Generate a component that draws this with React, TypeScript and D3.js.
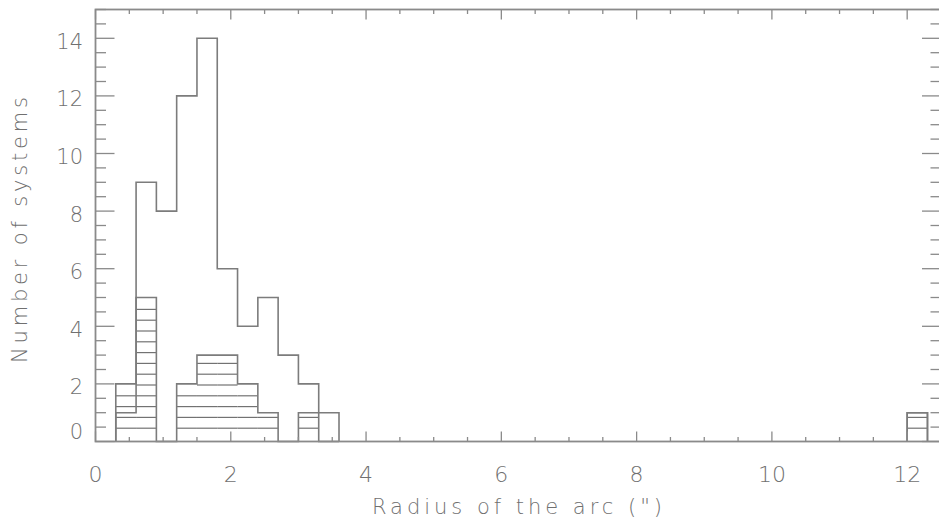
import React from 'react';
import * as d3 from 'd3';

// Histogram bins (left edges, width 0.3 arcsec)
const binLeft = [0.3, 0.6, 0.9, 1.2, 1.5, 1.8, 2.1, 2.4, 2.7, 3.0, 3.3, 12.0];
const allCounts = [1, 9, 8, 12, 14, 6, 4, 5, 3, 2, 1, 1];
const subCounts = [2, 5, 0, 2, 3, 3, 2, 1, 0, 1, 0, 1];
const binWidth = 0.3;
const xTickLabels = [0, 2, 4, 6, 8, 10, 12];
const yTickLabels = [0, 2, 4, 6, 8, 10, 12, 14];
const xTitle = 'Radius of the arc (")';
const yTitle = 'Number of systems';

const W = 939;
const H = 521;
const x = d3.scaleLinear().domain([0, 12.5]).range([95.5, 941]);
const y = d3.scaleLinear().domain([0, 15]).range([441.5, 9.5]);

const LINE = '#7c7c7c';
const FRAME = '#8a8a8a';
const TEXT = '#707070';
const FONT = '"DejaVu Sans ExtraLight", "DejaVu Sans", sans-serif';

type Bin = { l: number; c: number };

function groups(counts: number[]): Bin[][] {
  const out: Bin[][] = [];
  let cur: Bin[] = [];
  binLeft.forEach((l, i) => {
    if (cur.length && Math.abs(cur[cur.length - 1].l + binWidth - l) > 1e-6) {
      out.push(cur);
      cur = [];
    }
    cur.push({ l, c: counts[i] });
  });
  if (cur.length) out.push(cur);
  return out;
}

function stepPath(g: Bin[]): string {
  const pts: [number, number][] = [[x(g[0].l), y(0)]];
  g.forEach((b) => {
    pts.push([x(b.l), y(b.c)]);
    pts.push([x(b.l + binWidth), y(b.c)]);
  });
  pts.push([x(g[g.length - 1].l + binWidth), y(0)]);
  return d3.line()(pts) || '';
}

export default function App() {
  const xMinor = d3.range(0, 12.5 + 1e-6, 0.5);
  const yMinor = d3.range(0, 15 + 1e-6, 0.5);
  const isMajor = (v: number) => Math.abs(v / 2 - Math.round(v / 2)) < 1e-6;

  const hatch: { x1: number; x2: number; yy: number }[] = [];
  binLeft.forEach((l, i) => {
    const c = subCounts[i];
    if (c <= 0) return;
    const top = y(c);
    for (let k = 0; ; k++) {
      const yy = y(0) - 13.3 - 10.8 * k;
      if (yy < top + 2) break;
      hatch.push({ x1: x(l), x2: x(l + binWidth), yy });
    }
  });

  const x0 = x(0), x1 = x(12.5), y0 = y(0), y1 = y(15);

  return (
    <svg width={W} height={H} style={{ position: 'absolute', left: 0, top: 0, background: '#fff' }}>
      {/* hatch lines */}
      {hatch.map((h, i) => (
        <line key={'h' + i} x1={h.x1} x2={h.x2} y1={h.yy} y2={h.yy} stroke="#727272" strokeWidth={1.2} />
      ))}
      {/* subset outline */}
      {groups(subCounts).map((g, i) => (
        <path key={'s' + i} d={stepPath(g)} fill="none" stroke={LINE} strokeWidth={1.6} />
      ))}
      {/* full sample outline */}
      {groups(allCounts).map((g, i) => (
        <path key={'a' + i} d={stepPath(g)} fill="none" stroke={LINE} strokeWidth={1.6} />
      ))}

      {/* frame */}
      <rect x={x0} y={y1} width={x1 - x0} height={y0 - y1} fill="none" stroke={FRAME} strokeWidth={1.8} />

      {/* x ticks */}
      {xMinor.map((v, i) => {
        const len = isMajor(v) ? 10 : 4.5;
        return (
          <g key={'xt' + i}>
            <line x1={x(v)} x2={x(v)} y1={y0} y2={y0 - len} stroke={FRAME} strokeWidth={1.3} />
            <line x1={x(v)} x2={x(v)} y1={y1} y2={y1 + len} stroke={FRAME} strokeWidth={1.3} />
          </g>
        );
      })}
      {/* y ticks */}
      {yMinor.map((v, i) => {
        const len = isMajor(v) ? 19 : 10.5;
        return (
          <g key={'yt' + i}>
            <line x1={x0} x2={x0 + len} y1={y(v)} y2={y(v)} stroke={FRAME} strokeWidth={1.3} />
            <line x1={x1} x2={x1 - len} y1={y(v)} y2={y(v)} stroke={FRAME} strokeWidth={1.3} />
          </g>
        );
      })}

      {/* x tick labels */}
      {xTickLabels.map((v) => (
        <text key={'xl' + v} x={x(v)} y={482} textAnchor="middle" fontFamily={FONT} fontWeight={200} fontSize={22} fill={TEXT}>
          {v}
        </text>
      ))}
      {/* y tick labels */}
      {yTickLabels.map((v) => (
        <text
          key={'yl' + v}
          x={83}
          y={v === 0 ? y(v) - 10.5 : y(v) + 3}
          dy="0.36em"
          textAnchor="end"
          fontFamily={FONT}
          fontWeight={200}
          fontSize={21}
          fill={TEXT}
        >
          {v}
        </text>
      ))}

      {/* axis titles */}
      <text
        x={517}
        y={514}
        textAnchor="middle"
        fontFamily={FONT}
        fontWeight={200}
        fontSize={21}
        fill={TEXT}
        textLength={290}
        lengthAdjust="spacing"
      >
        {xTitle}
      </text>
      <text
        transform={`translate(27,230) rotate(-90)`}
        textAnchor="middle"
        fontFamily={FONT}
        fontWeight={200}
        fontSize={21}
        fill={TEXT}
        textLength={266}
        lengthAdjust="spacing"
      >
        {yTitle}
      </text>
    </svg>
  );
}
